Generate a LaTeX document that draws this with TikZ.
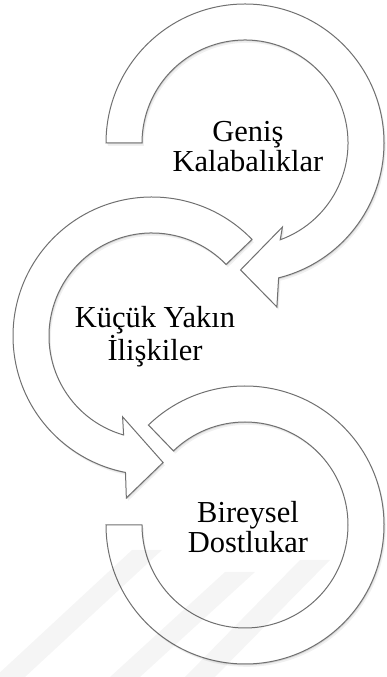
\documentclass[tikz,border=0pt]{standalone}
\usepackage{fontspec}
\setmainfont{Liberation Serif}
\usepackage{tikz}
\usetikzlibrary{shadows,backgrounds}
\usetikzlibrary{positioning}
\pgfdeclarelayer{edgelayer}
\pgfdeclarelayer{nodelayer}
\pgfsetlayers{background,edgelayer,nodelayer,main}
\definecolor{rimgray}{RGB}{112,112,112}
\tikzstyle{none}=[inner sep=0mm]
\tikzstyle{ring}=[fill=white,draw=rimgray,line width=1pt,
	drop shadow={shadow xshift=0.8pt,shadow yshift=-1.2pt,opacity=.25},
	drop shadow={shadow xshift=1.8pt,shadow yshift=-2.8pt,opacity=.12}]
\tikzstyle{lbl}=[none,align=center,font=\fontsize{30.5}{30}\selectfont]
\tikzstyle{stripe}=[fill=black,opacity=.04]

\begin{document}
\begin{tikzpicture}[x=1pt,y=1pt]
	\useasboundingbox (0,0) rectangle (386,677);
	\coordinate (c1) at (245,534);
	\coordinate (c2) at (152,341);
	\coordinate (c3) at (245,152);
	\begin{pgfonlayer}{edgelayer}
		% top arrow, clockwise
		\begin{scope}[shift={(c1)}]
			\path [style=ring] (180:139) arc[start angle=180, end angle=-76, radius=139]
				-- (-79:167) -- (-92:127) -- (-66:92) -- (-70:103)
				arc[start angle=-70, end angle=180, radius=103] -- cycle;
		\end{scope}
		% middle arrow, counterclockwise
		\begin{scope}[shift={(c2)}]
			\path [style=ring] (44:139) arc[start angle=44, end angle=259, radius=139]
				-- (261:164) -- (275:127) -- (250:86) -- (254:103)
				arc[start angle=254, end angle=44, radius=103] -- cycle;
		\end{scope}
		% bottom ring
		\begin{scope}[shift={(c3)}]
			\path [style=ring] (134:139) arc[start angle=134, end angle=-180, radius=139]
				-- (-180:103) arc[start angle=-180, end angle=134, radius=103] -- cycle;
		\end{scope}
	\end{pgfonlayer}
	\begin{pgfonlayer}{nodelayer}
		\node [style=lbl] (genis) at (248,530) {Geniş\\Kalabalıklar};
		\node [style=lbl] (kucuk) at (155,340) {Küçük Yakın\\İlişkiler};
		\node [style=lbl] (bireysel) at (248,150) {Bireysel\\Dostlukar};
	\end{pgfonlayer}
	% faint watermark stripes
	\fill [style=stripe] (-5,0) -- (25,0) -- (162,127) -- (132,127) -- cycle;
	\fill [style=stripe] (110,0) -- (140,0) -- (255,105) -- (225,105) -- cycle;
	\fill [style=stripe] (185,0) -- (215,0) -- (330,117) -- (300,117) -- cycle;
\end{tikzpicture}
\end{document}
